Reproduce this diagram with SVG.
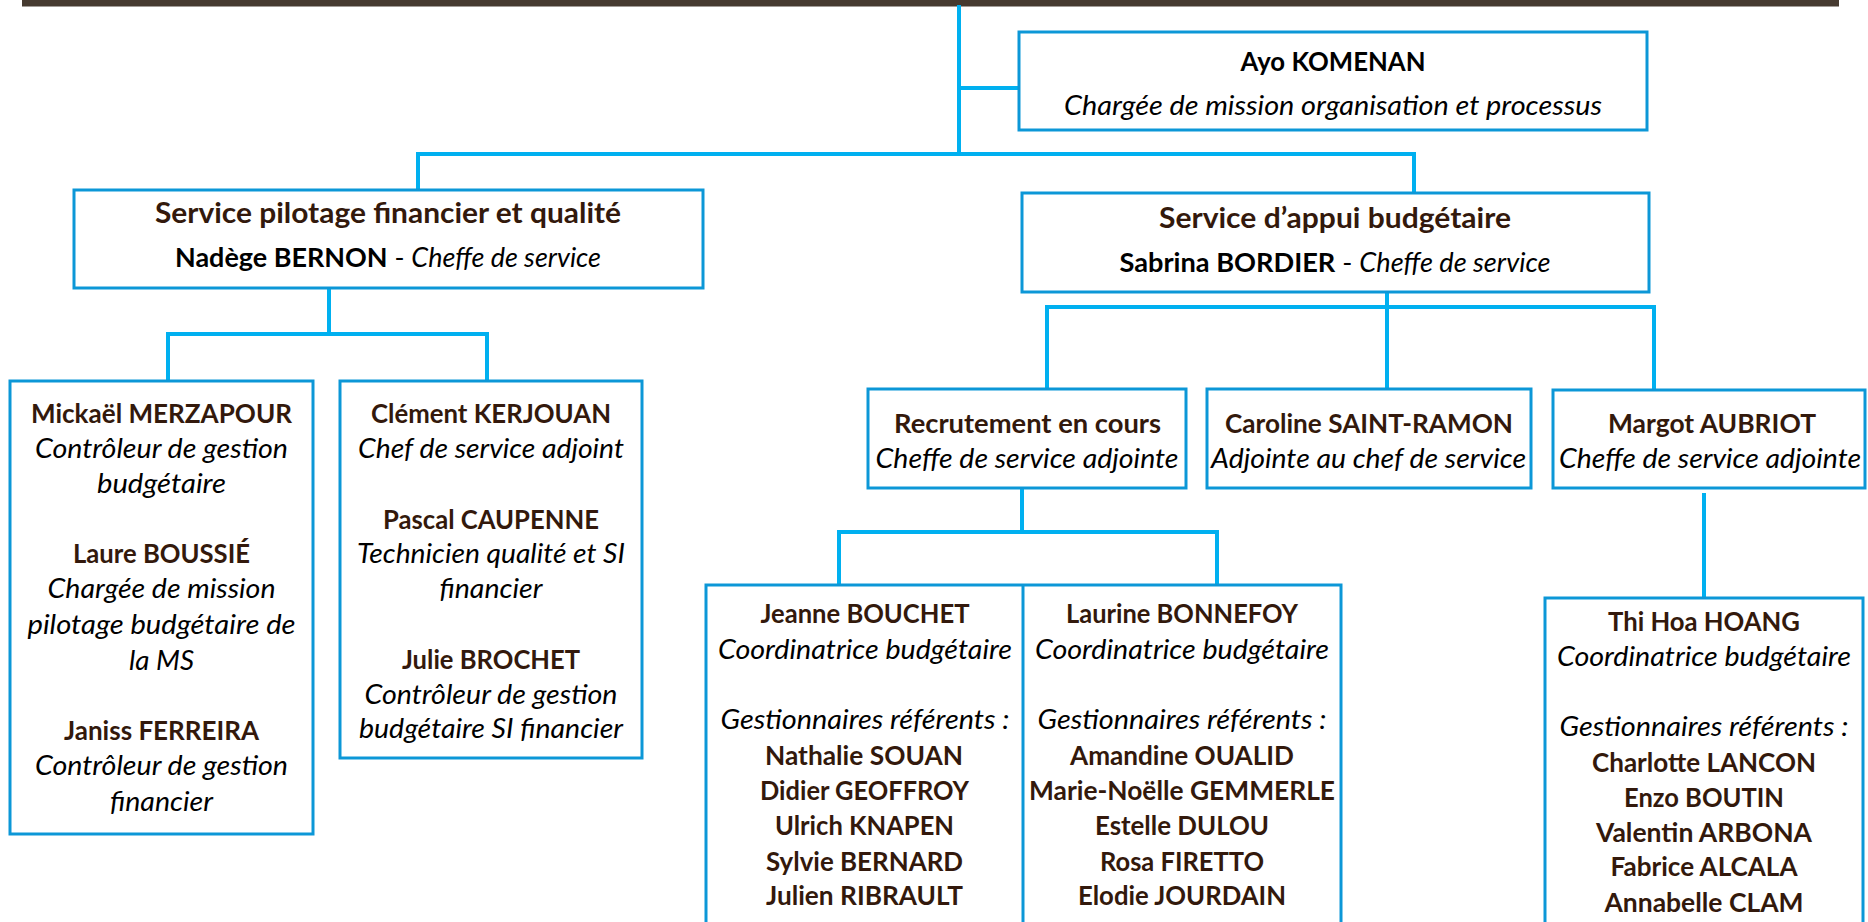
<svg xmlns="http://www.w3.org/2000/svg" width="1868" height="922" viewBox="0 0 1868 922">
<style>
  text { font-family: Lato, "Open Sans", "Liberation Sans", sans-serif; font-size: 26.5px; text-anchor: middle; }
  .box { fill: #ffffff; stroke: #0c97d7; stroke-width: 3; }
  .n { font-weight: bold; fill: #33190c; }
  .nb { font-weight: bold; fill: #000000; }
  .r { font-style: italic; font-weight: normal; fill: #000000; }
  .t { font-weight: bold; fill: #33190c; font-size: 28.5px; }
  .plain { font-style: normal; font-weight: normal; }
  #connectors path { fill: none; stroke: #00b0f0; stroke-width: 4; }
</style>
<rect x="0" y="0" width="1868" height="922" fill="#ffffff"/>
<rect id="topbar" x="22" y="0" width="1817" height="6.5" fill="#463a30"/>

<g id="connectors">
  <path d="M959 5 V154"/>
  <path d="M959 88 H1019"/>
  <path d="M418 190 V154 H1414 V193"/>
  <path d="M329 288 V334"/>
  <path d="M168 381 V334 H487 V381"/>
  <path d="M1387 292 V389"/>
  <path d="M1047 389 V307 H1654 V390"/>
  <path d="M1022 488 V532"/>
  <path d="M839 585 V532 H1217 V585"/>
  <path d="M1704 493 V598"/>
</g>

<g id="ayo">
  <rect class="box" x="1019" y="32" width="628" height="98"/>
  <text class="nb" x="1333" y="71" textLength="185" lengthAdjust="spacingAndGlyphs">Ayo KOMENAN</text>
  <text class="r" x="1333" y="115" textLength="538" lengthAdjust="spacingAndGlyphs">Chargée de mission organisation et processus</text>
</g>

<g id="service-pilotage">
  <rect class="box" x="74" y="190" width="629" height="98"/>
  <text class="t" x="388" y="223" textLength="466" lengthAdjust="spacingAndGlyphs">Service pilotage financier et qualité</text>
  <text class="nb" x="388" y="267" textLength="426" lengthAdjust="spacingAndGlyphs">Nadège BERNON<tspan class="plain"> - </tspan><tspan class="r">Cheffe de service</tspan></text>
</g>

<g id="service-appui">
  <rect class="box" x="1022" y="193" width="627" height="99"/>
  <text class="t" x="1335" y="228" textLength="352" lengthAdjust="spacingAndGlyphs">Service d’appui budgétaire</text>
  <text class="nb" x="1335" y="272" textLength="431" lengthAdjust="spacingAndGlyphs">Sabrina BORDIER<tspan class="plain"> - </tspan><tspan class="r">Cheffe de service</tspan></text>
</g>

<g id="pilotage-team-1">
  <rect class="box" x="10" y="381" width="303" height="453"/>
  <text class="n" x="161.5" y="423" textLength="261" lengthAdjust="spacingAndGlyphs">Mickaël MERZAPOUR</text>
  <text class="r" x="161.5" y="458" textLength="253" lengthAdjust="spacingAndGlyphs">Contrôleur de gestion</text>
  <text class="r" x="161.5" y="493" textLength="129" lengthAdjust="spacingAndGlyphs">budgétaire</text>
  <text class="n" x="161.5" y="563" textLength="177" lengthAdjust="spacingAndGlyphs">Laure BOUSSIÉ</text>
  <text class="r" x="161.5" y="598" textLength="228" lengthAdjust="spacingAndGlyphs">Chargée de mission</text>
  <text class="r" x="161.5" y="634" textLength="268" lengthAdjust="spacingAndGlyphs">pilotage budgétaire de</text>
  <text class="r" x="161.5" y="670" textLength="65" lengthAdjust="spacingAndGlyphs">la MS</text>
  <text class="n" x="161.5" y="740" textLength="195" lengthAdjust="spacingAndGlyphs">Janiss FERREIRA</text>
  <text class="r" x="161.5" y="775" textLength="253" lengthAdjust="spacingAndGlyphs">Contrôleur de gestion</text>
  <text class="r" x="161.5" y="811" textLength="103" lengthAdjust="spacingAndGlyphs">financier</text>
</g>

<g id="pilotage-team-2">
  <rect class="box" x="340" y="381" width="302" height="377"/>
  <text class="n" x="491" y="423" textLength="240" lengthAdjust="spacingAndGlyphs">Clément KERJOUAN</text>
  <text class="r" x="491" y="458" textLength="266" lengthAdjust="spacingAndGlyphs">Chef de service adjoint</text>
  <text class="n" x="491" y="529" textLength="216" lengthAdjust="spacingAndGlyphs">Pascal CAUPENNE</text>
  <text class="r" x="491" y="563" textLength="268" lengthAdjust="spacingAndGlyphs">Technicien qualité et SI</text>
  <text class="r" x="491" y="598" textLength="103" lengthAdjust="spacingAndGlyphs">financier</text>
  <text class="n" x="491" y="669" textLength="178" lengthAdjust="spacingAndGlyphs">Julie BROCHET</text>
  <text class="r" x="491" y="704" textLength="253" lengthAdjust="spacingAndGlyphs">Contrôleur de gestion</text>
  <text class="r" x="491" y="738" textLength="264" lengthAdjust="spacingAndGlyphs">budgétaire SI financier</text>
</g>

<g id="recrutement">
  <rect class="box" x="868" y="389" width="318" height="99"/>
  <text class="n" x="1027.5" y="433" textLength="267" lengthAdjust="spacingAndGlyphs">Recrutement en cours</text>
  <text class="r" x="1027" y="468" textLength="303" lengthAdjust="spacingAndGlyphs">Cheffe de service adjointe</text>
</g>

<g id="caroline">
  <rect class="box" x="1207" y="389" width="324" height="99"/>
  <text class="n" x="1369" y="433" textLength="288" lengthAdjust="spacingAndGlyphs">Caroline SAINT-RAMON</text>
  <text class="r" x="1368.5" y="468" textLength="315" lengthAdjust="spacingAndGlyphs">Adjointe au chef de service</text>
</g>

<g id="margot">
  <rect class="box" x="1553" y="390" width="312" height="98"/>
  <text class="n" x="1712" y="433" textLength="208" lengthAdjust="spacingAndGlyphs">Margot AUBRIOT</text>
  <text class="r" x="1710" y="468" textLength="302" lengthAdjust="spacingAndGlyphs">Cheffe de service adjointe</text>
</g>

<g id="coordination-team">
  <rect class="box" x="706" y="585" width="635" height="360"/>
  <path d="M1023 585 V945" fill="none" stroke="#0c97d7" stroke-width="3"/>
  <g id="jeanne">
    <text class="n" x="865" y="623" textLength="209" lengthAdjust="spacingAndGlyphs">Jeanne BOUCHET</text>
    <text class="r" x="865" y="659" textLength="294" lengthAdjust="spacingAndGlyphs">Coordinatrice budgétaire</text>
    <text class="r" x="865" y="729" textLength="289" lengthAdjust="spacingAndGlyphs">Gestionnaires référents :</text>
    <text class="n" x="864" y="765" textLength="198" lengthAdjust="spacingAndGlyphs">Nathalie SOUAN</text>
    <text class="n" x="864.5" y="800" textLength="209" lengthAdjust="spacingAndGlyphs">Didier GEOFFROY</text>
    <text class="n" x="864.5" y="835" textLength="179" lengthAdjust="spacingAndGlyphs">Ulrich KNAPEN</text>
    <text class="n" x="864.5" y="871" textLength="197" lengthAdjust="spacingAndGlyphs">Sylvie BERNARD</text>
    <text class="n" x="864.5" y="905" textLength="197" lengthAdjust="spacingAndGlyphs">Julien RIBRAULT</text>
  </g>
  <g id="laurine">
    <text class="n" x="1182" y="623" textLength="232" lengthAdjust="spacingAndGlyphs">Laurine BONNEFOY</text>
    <text class="r" x="1182" y="659" textLength="294" lengthAdjust="spacingAndGlyphs">Coordinatrice budgétaire</text>
    <text class="r" x="1182" y="729" textLength="289" lengthAdjust="spacingAndGlyphs">Gestionnaires référents :</text>
    <text class="n" x="1182" y="765" textLength="224" lengthAdjust="spacingAndGlyphs">Amandine OUALID</text>
    <text class="n" x="1182" y="800" textLength="306" lengthAdjust="spacingAndGlyphs">Marie-Noëlle GEMMERLE</text>
    <text class="n" x="1182" y="835" textLength="174" lengthAdjust="spacingAndGlyphs">Estelle DULOU</text>
    <text class="n" x="1182" y="871" textLength="164" lengthAdjust="spacingAndGlyphs">Rosa FIRETTO</text>
    <text class="n" x="1182" y="905" textLength="208" lengthAdjust="spacingAndGlyphs">Elodie JOURDAIN</text>
  </g>
</g>

<g id="thi-hoa">
  <rect class="box" x="1545" y="598" width="318" height="350"/>
  <text class="n" x="1704" y="631" textLength="192" lengthAdjust="spacingAndGlyphs">Thi Hoa HOANG</text>
  <text class="r" x="1704" y="666" textLength="294" lengthAdjust="spacingAndGlyphs">Coordinatrice budgétaire</text>
  <text class="r" x="1704" y="736" textLength="289" lengthAdjust="spacingAndGlyphs">Gestionnaires référents :</text>
  <text class="n" x="1704" y="772" textLength="224" lengthAdjust="spacingAndGlyphs">Charlotte LANCON</text>
  <text class="n" x="1704" y="807" textLength="160" lengthAdjust="spacingAndGlyphs">Enzo BOUTIN</text>
  <text class="n" x="1704" y="842" textLength="216" lengthAdjust="spacingAndGlyphs">Valentin ARBONA</text>
  <text class="n" x="1704" y="876" textLength="187" lengthAdjust="spacingAndGlyphs">Fabrice ALCALA</text>
  <text class="n" x="1704" y="912" textLength="199" lengthAdjust="spacingAndGlyphs">Annabelle CLAM</text>
</g>
</svg>
